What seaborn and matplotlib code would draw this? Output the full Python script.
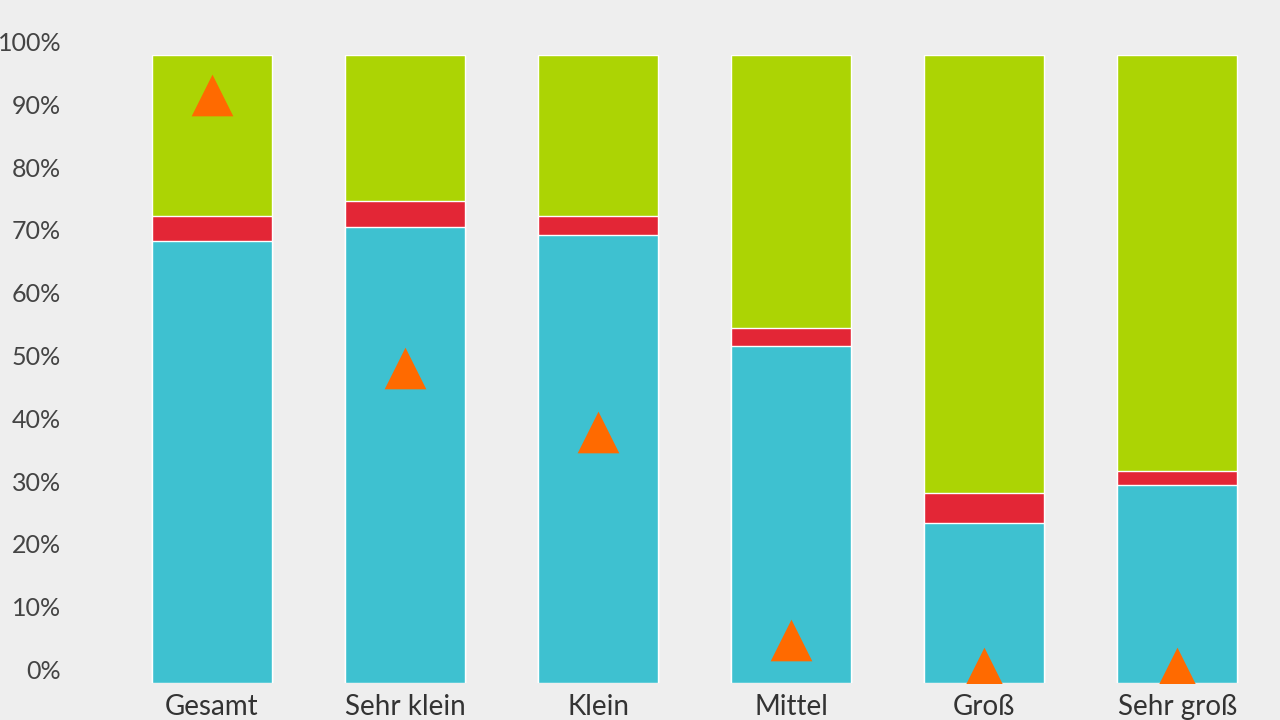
import matplotlib
matplotlib.use("Agg")
import matplotlib.pyplot as plt
import seaborn as sns
import pandas as pd

categories = ["Gesamt", "Sehr klein", "Klein", "Mittel", "Groß", "Sehr groß"]
blue = [70.4, 72.6, 71.3, 53.7, 25.5, 31.5]
red = [4.0, 4.2, 3.1, 2.8, 4.8, 2.3]
green = [100 - b - r for b, r in zip(blue, red)]
triangle = [93.6, 50.2, 40.0, 6.8, 2.4, 2.4]

sns.set_theme(style="white")
plt.rcParams['font.family'] = ['Lato', 'DejaVu Sans']
fig = plt.figure(figsize=(12.8, 7.2), dpi=100, facecolor="#eeeeee")
ax = fig.add_axes([100/1280, 37/720, 1170/1280, 628/720])
ax.set_facecolor("#eeeeee")

df = pd.DataFrame({"cat": categories, "blue": blue, "red": red, "green": green, "tri": triangle})
tops = [b + r + g for b, r, g in zip(blue, red, green)]
df["top"] = tops
df["br"] = [b + r for b, r in zip(blue, red)]
sns.barplot(data=df, x="cat", y="top", color="#acd404", width=0.62, saturation=1, ax=ax)
sns.barplot(data=df, x="cat", y="br", color="#e32636", width=0.62, saturation=1, ax=ax)
sns.barplot(data=df, x="cat", y="blue", color="#3ec1d0", width=0.62, saturation=1, ax=ax)
sns.scatterplot(data=df, x="cat", y="tri", marker="^", s=900, color="#ff6a00", linewidth=0, ax=ax, zorder=5)

ax.set_xlim(-0.58, 5.48)
ax.set_ylim(0, 100)
ax.set_yticks(range(0, 101, 10))
ax.set_yticklabels([f"{v}%" for v in range(0, 101, 10)], fontsize=18, color="#444444")
for t in ax.get_yticklabels():
    t.set_va("bottom")
ax.tick_params(axis="y", pad=28, length=0)
ax.tick_params(axis="x", labelsize=20, labelcolor="#333333", length=0, pad=8)
ax.set_xlabel("")
ax.set_ylabel("")
for s in ax.spines.values():
    s.set_visible(False)
fig.savefig("out.png", dpi=100, facecolor=fig.get_facecolor())
